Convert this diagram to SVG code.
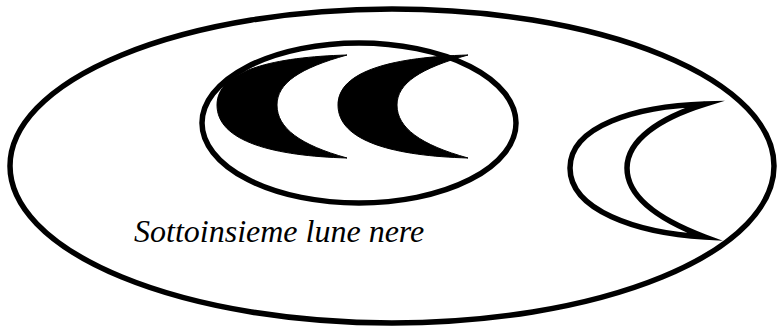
<svg xmlns="http://www.w3.org/2000/svg" width="777" height="332" viewBox="0 0 777 332">
<style>
.ol{fill:none;stroke:#000;stroke-width:5.5}
.black{fill:#000;stroke:#000;stroke-width:1}
.white{fill:#fff;stroke:#000;stroke-width:5.5;stroke-linejoin:miter;stroke-miterlimit:20}
</style>
<rect width="777" height="332" fill="#fff"/>
<g id="universe"><ellipse class="ol" cx="392" cy="166" rx="382" ry="157"/></g>
<g id="subset"><ellipse class="ol" cx="359" cy="123" rx="157" ry="80"/></g>
<g id="moon-black-1"><path class="black" d="M347,55 C275,57 217,70 217,105 C217,142 275,156 347,158 C300,145 277,128 277,105 C277,83 300,68 347,55 Z"/></g>
<g id="moon-black-2"><path class="black" d="M468,55 C396,57 338,70 338,105 C338,142 396,156 468,158 C421,145 397,128 397,105 C397,83 421,68 468,55 Z"/></g>
<g id="moon-white"><path class="white" d="M705,104 C636,106 570,126 570,168 C570,210 636,233 705,237 C660,220 627,198 627,168 C627,140 660,118 705,104 Z"/></g>
<g id="label"><text x="134" y="242" font-family="'Liberation Serif', serif" font-style="italic" font-size="32" fill="#000">Sottoinsieme lune nere</text></g>
</svg>
